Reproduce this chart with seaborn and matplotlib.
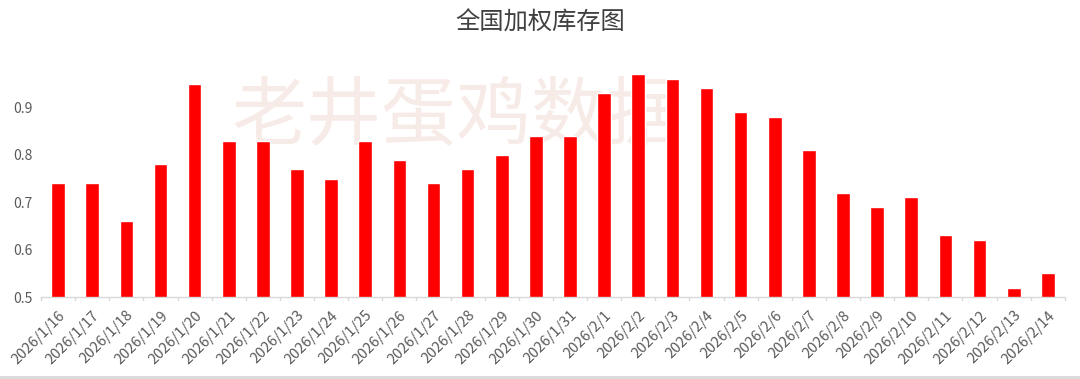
import matplotlib
matplotlib.use("Agg")
import matplotlib.pyplot as plt
import seaborn as sns
import pandas as pd
from matplotlib.lines import Line2D

dates = ["2026/1/16", "2026/1/17", "2026/1/18", "2026/1/19", "2026/1/20", "2026/1/21",
         "2026/1/22", "2026/1/23", "2026/1/24", "2026/1/25", "2026/1/26", "2026/1/27",
         "2026/1/28", "2026/1/29", "2026/1/30", "2026/1/31", "2026/2/1", "2026/2/2",
         "2026/2/3", "2026/2/4", "2026/2/5", "2026/2/6", "2026/2/7", "2026/2/8",
         "2026/2/9", "2026/2/10", "2026/2/11", "2026/2/12", "2026/2/13", "2026/2/14"]
values = [0.74, 0.74, 0.66, 0.78, 0.95, 0.83, 0.83, 0.77, 0.75, 0.83, 0.79, 0.74,
          0.77, 0.80, 0.84, 0.84, 0.93, 0.97, 0.96, 0.94, 0.89, 0.88, 0.81, 0.72,
          0.69, 0.71, 0.63, 0.62, 0.52, 0.55]
yticks = [0.5, 0.6, 0.7, 0.8, 0.9]
title = "全国加权库存图"
watermark = "老井蛋鸡数据"

sns.set_theme(style="white")
plt.rcParams['font.family'] = ['Noto Sans CJK SC', 'DejaVu Sans']

df = pd.DataFrame({"date": dates, "value": values})

fig = plt.figure(figsize=(10.8, 3.79), dpi=100)
ax = fig.add_axes([0.038, 0.216, 0.948, 0.626])
ax.patch.set_visible(False)

sns.barplot(data=df, x="date", y="value", color="#ff0000", saturation=1,
            width=0.4, ax=ax, zorder=2)

ax.set_ylim(0.5, 1.0)
ax.set_xlim(-0.5, len(dates) - 0.5)
ax.set_yticks(yticks)
ax.set_yticklabels([f"{t:.1f}" for t in yticks], color="#595959", fontsize=10)
ax.tick_params(axis="y", length=0, pad=6)
ax.set_xticks(range(len(dates)))
ax.set_xticklabels(dates, rotation=45, ha="right", rotation_mode="anchor",
                   color="#595959", fontsize=10.5)
ax.tick_params(axis="x", length=0, pad=8)
for i in range(len(dates) + 1):
    ax.plot([i - 0.5, i - 0.5], [0, -0.012], transform=ax.get_xaxis_transform(),
            color="#d9d9d9", lw=1, clip_on=False)
ax.set_xlabel("")
ax.set_ylabel("")
for s in ["top", "right", "left"]:
    ax.spines[s].set_visible(False)
ax.spines["bottom"].set_color("#d9d9d9")
ax.spines["bottom"].set_linewidth(1)

fig.suptitle(title, x=0.5, y=0.975, fontsize=17.5, color="#404040")
ax.text(0.423, 0.69, watermark, ha="center", va="center", fontsize=54,
        color="#f7ebe7", zorder=0.5, transform=fig.transFigure)
fig.add_artist(Line2D([0, 1], [0.004, 0.004], color="#d9d9d9", lw=2))

fig.savefig("out.png", dpi=100)
